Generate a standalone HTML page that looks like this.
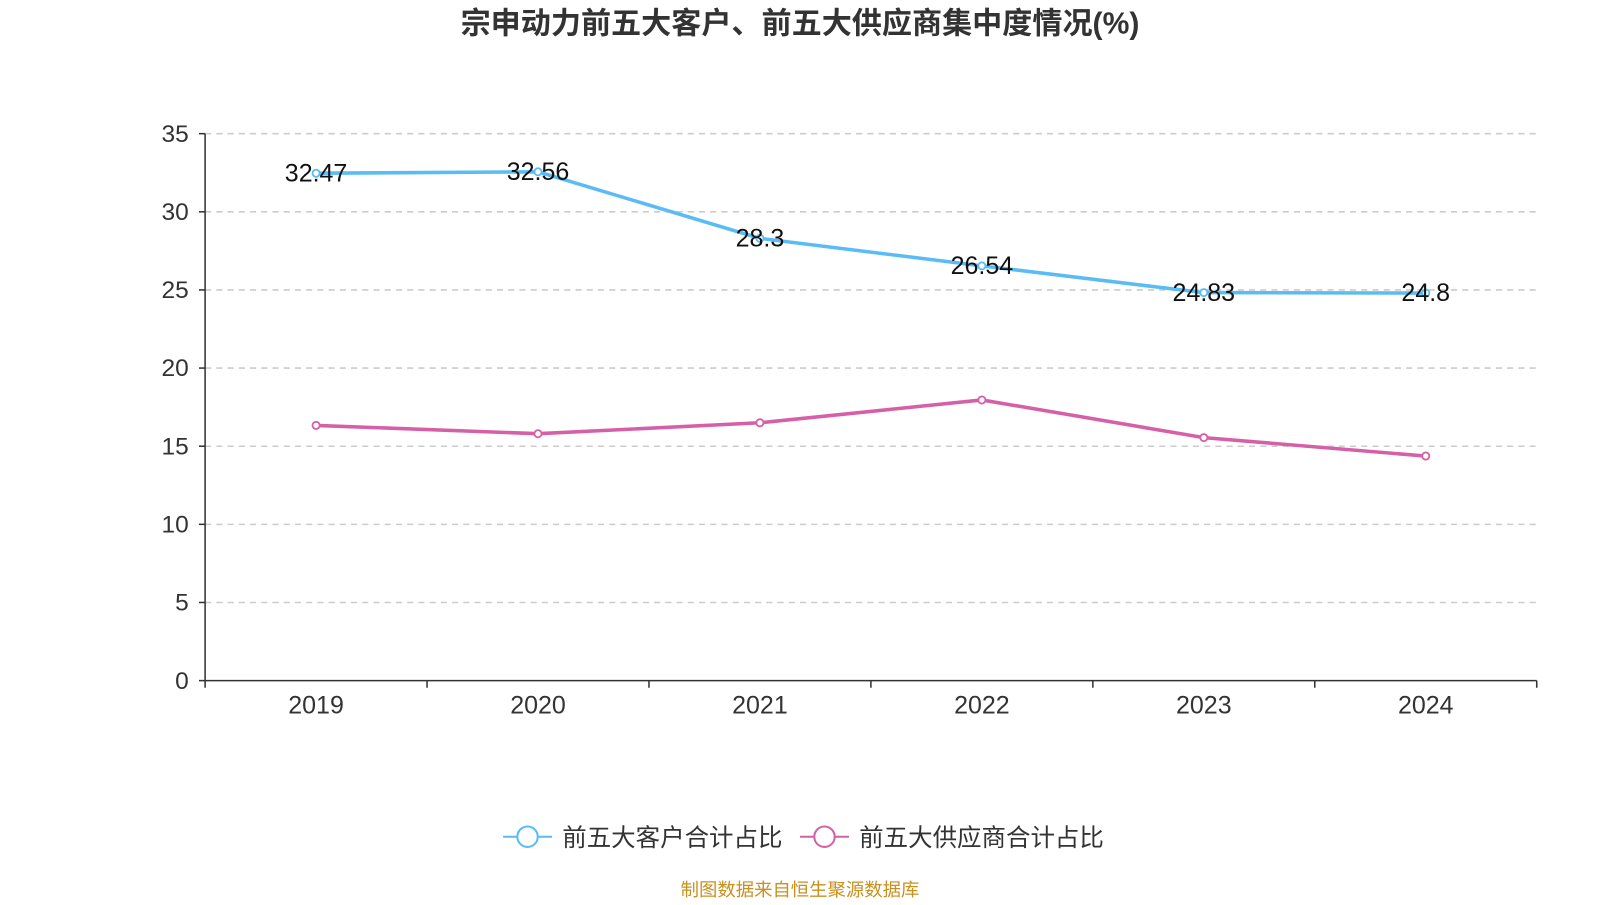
<!DOCTYPE html>
<html><head><meta charset="utf-8"><style>
body{margin:0;background:#fff;width:1600px;height:900px;overflow:hidden;font-family:"Liberation Sans","Noto Sans CJK SC",sans-serif}
</style></head><body>
<svg width="1600" height="900" xmlns="http://www.w3.org/2000/svg"><g id="c" transform="scale(1.0204)"></g></svg>
<script>
const categories=["2019","2020","2021","2022","2023","2024"];
const customers=[32.47,32.56,28.3,26.54,24.83,24.8];
const suppliers=[16.33,15.8,16.5,17.96,15.55,14.37];
const yTicks=[0,5,10,15,20,25,30,35];
const svg=document.getElementById('c');
const NS="http://www.w3.org/2000/svg";
const L=201,R=1506,T=131,B=667,yMax=35;
const bw=(R-L)/categories.length;
const x=i=>L+bw*(i+0.5);
const y=v=>B-(v/yMax)*(B-T);
function mk(t,a,p){const e=document.createElementNS(NS,t);for(const k in a)e.setAttribute(k,a[k]);(p||svg).appendChild(e);return e;}
const F='"Liberation Sans","Noto Sans CJK SC",sans-serif';
let t=mk('text',{x:784,y:33,'text-anchor':'middle','font-size':29.5,'font-weight':'bold',fill:'#333','font-family':F});t.textContent='宗申动力前五大客户、前五大供应商集中度情况(%)';


yTicks.forEach(v=>{
 if(v>0){const g=mk('line',{x1:L,x2:R,y1:y(v),y2:y(v),stroke:'#ccc','stroke-dasharray':'6,5','stroke-width':1.5});
 
 }
 mk('line',{x1:L-6,x2:L,y1:y(v),y2:y(v),stroke:'#333','stroke-width':1.5});
 const tx=mk('text',{x:185,y:y(v)+8,'text-anchor':'end','font-size':24,fill:'#333','font-family':F});tx.textContent=v;
 
 
});
mk('line',{x1:L,x2:L,y1:T,y2:B,stroke:'#333','stroke-width':1.5});
mk('line',{x1:L,x2:R,y1:B,y2:B,stroke:'#333','stroke-width':1.5});
for(let i=0;i<=categories.length;i++)mk('line',{x1:L+bw*i,x2:L+bw*i,y1:B,y2:B+7,stroke:'#333','stroke-width':1.5});
categories.forEach((c,i)=>{const tx=mk('text',{x:x(i),y:699,'text-anchor':'middle','font-size':24.5,fill:'#333','font-family':F});tx.textContent=c;
 
 });
function series(data,col,name,labels){
 const p=mk('polyline',{points:data.map((v,i)=>x(i)+','+y(v)).join(' '),fill:'none',stroke:col,'stroke-width':3.5});
 
 
 data.forEach((v,i)=>{const c=mk('circle',{cx:x(i),cy:y(v),r:3.5,fill:'#fff',stroke:col,'stroke-width':1.8});
  
  
  if(labels){const tx=mk('text',{x:x(i),y:y(v)+8,'text-anchor':'middle','font-size':24.5,fill:'#111','font-family':F});tx.textContent=v;
  
  }
 });
}
series(customers,'#5bbcf5','customers',true);
series(suppliers,'#d660a8','suppliers',false);
function legend(lx,col,txt,name){
 const g=mk('g',{});
 
 
 mk('line',{x1:lx,x2:lx+48,y1:820,y2:820,stroke:col,'stroke-width':2},g);
 mk('circle',{cx:lx+24,cy:820,r:10,fill:'#fff',stroke:col,'stroke-width':2},g);
 const tx=mk('text',{x:lx+58,y:829,'font-size':24,fill:'#333','font-family':F},g);tx.textContent=txt;
}
legend(493,'#5bbcf5','前五大客户合计占比','legend-customers');
legend(784,'#d660a8','前五大供应商合计占比','legend-suppliers');
t=mk('text',{x:784,y:878,'text-anchor':'middle','font-size':18,fill:'#c8901e','font-family':F});t.textContent='制图数据来自恒生聚源数据库';


</script>
</body></html>
